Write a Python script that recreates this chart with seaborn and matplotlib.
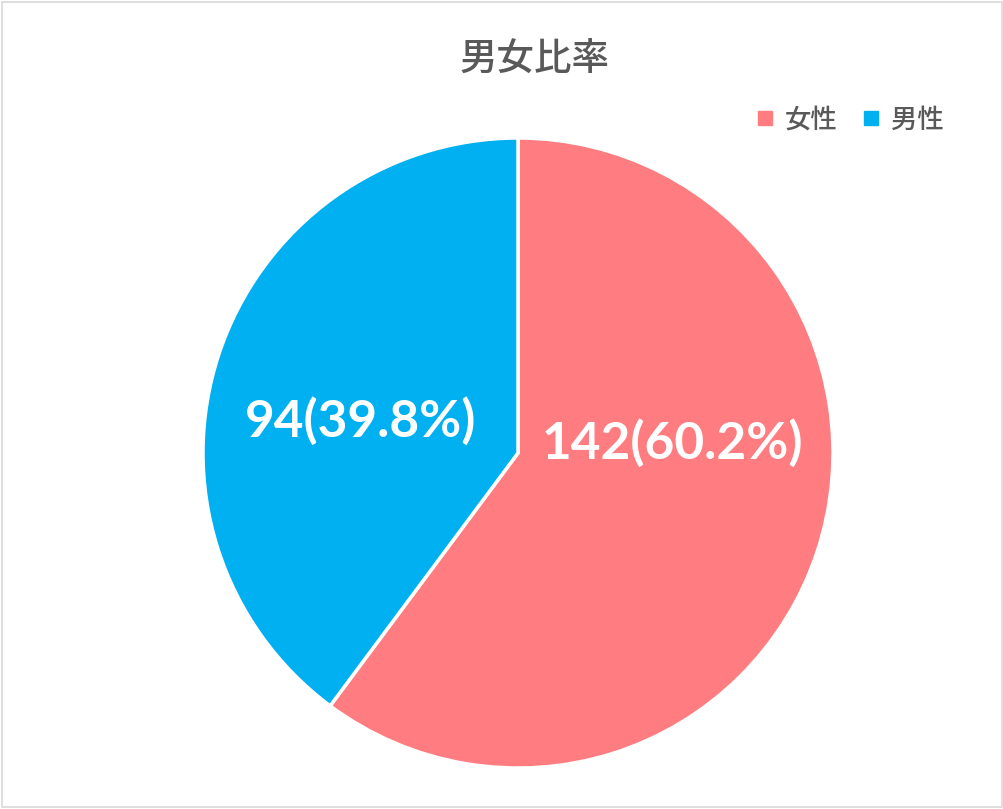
import matplotlib
matplotlib.use("Agg")
import matplotlib.pyplot as plt
import seaborn as sns
import numpy as np
from matplotlib.patches import Rectangle
from matplotlib.lines import Line2D

categories = ["女性", "男性"]
counts = [142, 94]
percents = [60.2, 39.8]
colors_hex = ["#FF7C80", "#00B0F0"]
title = "男女比率"

sns.set_theme(style="white")
plt.rcParams['font.family'] = ['Noto Sans CJK JP', 'DejaVu Sans']

palette = sns.color_palette(colors_hex)

fig = plt.figure(figsize=(10.04, 8.09), dpi=100)
fig.patch.set_facecolor("white")
fig.add_artist(Rectangle((0.0015, 0.002), 0.997, 0.996, transform=fig.transFigure,
                         fill=False, edgecolor="#D9D9D9", linewidth=1.2))

R = 315
cx, cy = 518, 453
W, H = 1004, 809
ax = fig.add_axes([(cx - R) / W, (H - cy - R) / H, 2 * R / W, 2 * R / H])
wedges, _ = ax.pie(counts, colors=palette, startangle=90, counterclock=False,
                   wedgeprops=dict(edgecolor="white", linewidth=2.5))
ax.set_xlim(-1, 1)
ax.set_ylim(-1, 1)
ax.axis("off")

label_pos = [(0.49, 0.03), (-0.50, 0.10)]
for (x, y), c, p in zip(label_pos, counts, percents):
    ax.text(x, y, f"{c}({p}%)", ha="center", va="center", color="white",
            fontsize=37, fontweight="bold", family=["Lato", "DejaVu Sans"])

fig.text(535 / W, 1 - 60 / H, title, ha="center", va="center",
         fontsize=27, color="#595959", fontweight="medium")

handles = [Line2D([0], [0], marker="s", linestyle="none", markersize=10,
                  markerfacecolor=col, markeredgecolor=col) for col in palette]
leg = fig.legend(handles, categories, loc="center", bbox_to_anchor=(849 / W, 1 - 120 / H),
                 ncol=2, frameon=False, prop=dict(size=19, weight="medium"),
                 handletextpad=0.35, columnspacing=0.85, handlelength=0.8)
for t in leg.get_texts():
    t.set_color("#595959")

fig.savefig("out.png", dpi=100, facecolor="white")
